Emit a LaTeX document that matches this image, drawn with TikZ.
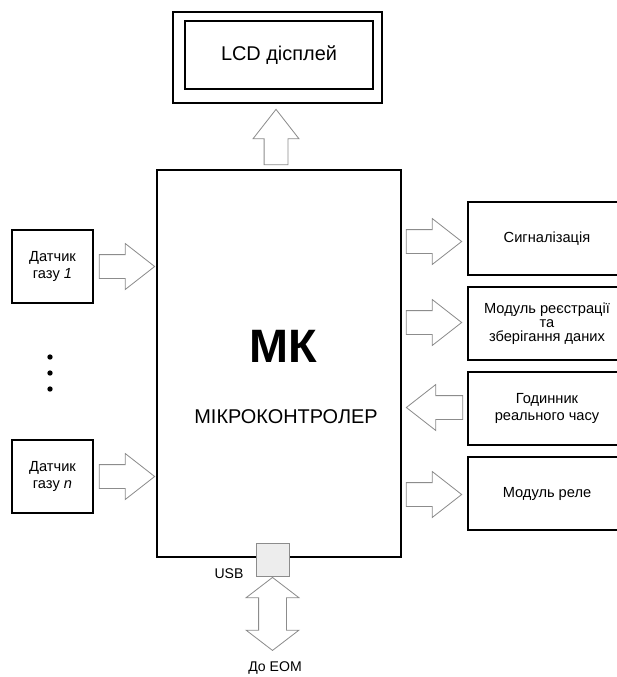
\documentclass[tikz,border=0pt]{standalone}
\usepackage{fontspec}
\setmainfont{Liberation Sans}
\usetikzlibrary{shapes.arrows,positioning,calc}
\definecolor{arrgray}{rgb}{0.55,0.55,0.55}
\definecolor{usbgray}{rgb}{0.93,0.93,0.93}

% block arrow between two points
\newcommand{\blockarrow}[3][]{%
  \path let \p1=#2, \p2=#3, \n1={atan2(\y2-\y1,\x2-\x1)}, \n2={veclen(\x2-\x1,\y2-\y1)} in
    (\p1) node[bigarrow, minimum height=\n2, rotate=\n1, #1] {};}

\tikzset{
  box/.style={draw, line width=1.3pt, inner sep=2pt, align=center, font=\fontsize{12.5}{14}\selectfont},
  sidebox/.style={box, minimum width=47.4mm, minimum height=21.9mm},
  sensbox/.style={box, minimum width=24.3mm, minimum height=21.9mm},
  bigarrow/.style={single arrow, draw=arrgray, fill=white, line width=0.7pt, inner xsep=0pt,
    inner ysep=3.45mm, single arrow head extend=3.3mm, single arrow tip angle=76, anchor=tail},
  botharrow/.style={double arrow, inner ysep=4.05mm, double arrow head extend=3.75mm,
    double arrow tip angle=105, anchor=west},
}

\begin{document}
\begin{tikzpicture}[x=0.3mm, y=-0.3mm]
  \useasboundingbox (0,0) rectangle (616,677);

  % display
  \node[box, minimum width=62.7mm, minimum height=27.3mm] (lcdout) at (277.5,57.5) {};
  \node[box, minimum width=56.4mm, minimum height=20.4mm, font=\fontsize{17}{19}\selectfont] (lcd) at (279,55) {LCD дісплей};

  % microcontroller
  \node[box, minimum width=73.2mm, minimum height=116.1mm] (mk) at (279,363.5) {};
  \node[font=\fontsize{40}{40}\selectfont\bfseries] (mkname) at ($(mk.center)+(4,-17)$) {МК};
  \node[font=\fontsize{17}{19}\selectfont] (mkfull) at ($(mk.center)+(7,53)$) {МІКРОКОНТРОЛЕР};
  \node[draw=arrgray, fill=usbgray, line width=0.7pt, minimum size=9.9mm, inner sep=0pt] (usb) at (272.5,560) {};
  \node[font=\fontsize{12}{13.5}\selectfont] (usblbl) at (229,574) {USB};
  \node[font=\fontsize{12}{13.5}\selectfont] (eom) at (275,668) {До ЕОМ};

  % sensors
  \node[sensbox] (s1) at (52.5,266.5) {Датчик\\газу \textit{1}};
  \node[sensbox] (sn) at (52.5,476.5) {Датчик\\газу \textit{n}};
  \foreach \y in {357,373,389}
    \fill (50,\y) circle (0.8mm);

  % peripherals
  \node[sidebox] (sig) at (547,238.5) {Сигналізація};
  \node[sidebox, font=\fontsize{12.5}{12}\selectfont] (reg) at (547,323.5) {Модуль реєстрації\\та\\зберігання даних};
  \node[sidebox] (clk) at (547,408.5) {Годинник\\реального часу};
  \node[sidebox] (rel) at (547,493.5) {Модуль реле};

  % arrows
  \blockarrow{($(mk.north)+(-3,-4)$)}{($(lcdout.south)+(-1.5,6)$)}
  \blockarrow{($(s1.east)+(5,0)$)}{($(mk.west|-s1.east)+(-2,0)$)}
  \blockarrow{($(sn.east)+(5,0)$)}{($(mk.west|-sn.east)+(-2,0)$)}
  \blockarrow{($(mk.east|-sig.west)+(4,3)$)}{($(sig.west)+(-6,3)$)}
  \blockarrow{($(mk.east|-reg.west)+(4,-1)$)}{($(reg.west)+(-6,-1)$)}
  \blockarrow{($(clk.west)+(-4,-1)$)}{($(mk.east|-clk.west)+(5,-1)$)}
  \blockarrow{($(mk.east|-rel.west)+(4,1)$)}{($(rel.west)+(-6,1)$)}
  \blockarrow[botharrow]{(usb.south)}{($(usb.south)+(0,73)$)}
\end{tikzpicture}
\end{document}
